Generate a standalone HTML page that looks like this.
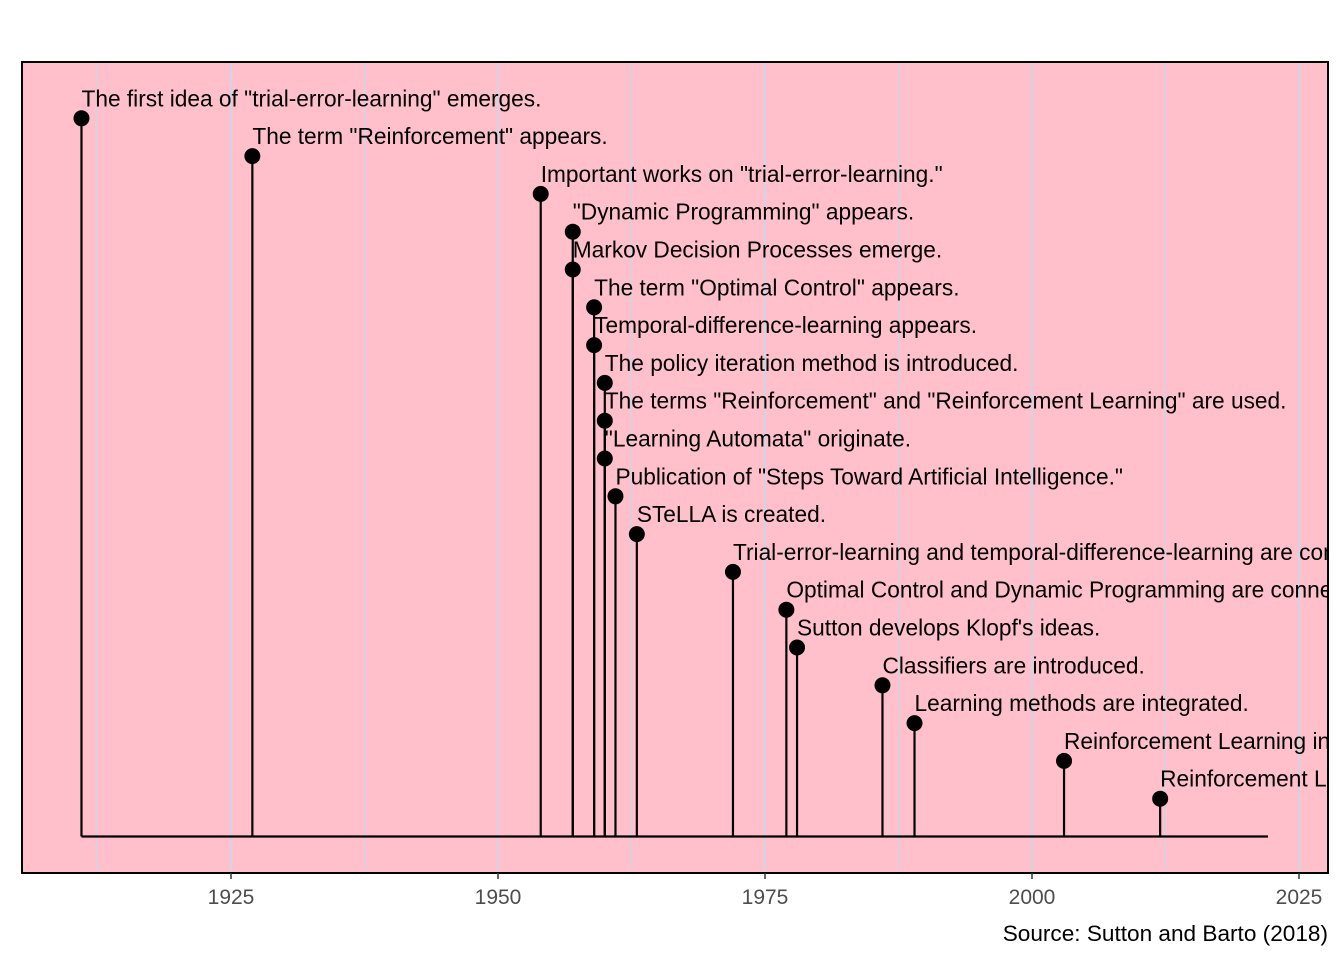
<!DOCTYPE html>
<html><head><meta charset="utf-8">
<style>body{margin:0;background:#fff}svg{display:block;font-family:"Liberation Sans",Arial,sans-serif}</style>
</head><body>
<svg id="chart" width="1344" height="960">
<defs><clipPath id="pc"><rect x="22" y="62" width="1306" height="811"/></clipPath></defs>
<rect x="22" y="62" width="1306" height="811" fill="#FFC0CB"/>
<g id="grid"></g>
<g id="marks" clip-path="url(#pc)"></g>
<rect x="22" y="62" width="1306" height="811" fill="none" stroke="#000" stroke-width="2"/>
<g id="axis"></g>
<text x="1328" y="941" text-anchor="end" font-size="22.6" fill="#000">Source: Sutton and Barto (2018)</text>
</svg>
<script>
const years=[1911,1927,1954,1957,1957,1959,1959,1960,1960,1960,1961,1963,1972,1977,1978,1986,1989,2003,2012];
const labels=['The first idea of "trial-error-learning" emerges.','The term "Reinforcement" appears.','Important works on "trial-error-learning."','"Dynamic Programming" appears.','Markov Decision Processes emerge.','The term "Optimal Control" appears.','Temporal-difference-learning appears.','The policy iteration method is introduced.','The terms "Reinforcement" and "Reinforcement Learning" are used.','"Learning Automata" originate.','Publication of "Steps Toward Artificial Intelligence."','STeLLA is created.','Trial-error-learning and temporal-difference-learning are combined.','Optimal Control and Dynamic Programming are connected.','Sutton develops Klopf\'s ideas.','Classifiers are introduced.','Learning methods are integrated.','Reinforcement Learning in games.','Reinforcement Learning matures.'];
const levels=[19,18,17,16,15,14,13,12,11,10,9,8,7,6,5,4,3,2,1];
const xTicks=[1925,1950,1975,2000,2025];
const xMinor=[1912.5,1937.5,1962.5,1987.5,2012.5];
const lineEnd=2022.1;
const NS='http://www.w3.org/2000/svg';
const X=y=>231+(y-1925)*10.68;
const Y=v=>836.5-v*37.8;
function mk(t,a,p){const e=document.createElementNS(NS,t);for(const k in a)e.setAttribute(k,a[k]);p.appendChild(e);return e;}
const grid=document.getElementById('grid'),marks=document.getElementById('marks'),axis=document.getElementById('axis');
xMinor.concat(xTicks).forEach(v=>{const l=mk('line',{x1:X(v),x2:X(v),y1:62,y2:873,stroke:'#BFDCEC','stroke-width':xTicks.includes(v)?1.5:1},grid);

});
const base=mk('line',{x1:X(years[0]),x2:X(lineEnd),y1:Y(0),y2:Y(0),stroke:'#000','stroke-width':2.2},marks);


years.forEach((yr,i)=>{
const s=mk('line',{x1:X(yr),x2:X(yr),y1:Y(0),y2:Y(levels[i]),stroke:'#000','stroke-width':2.2},marks);


const c=mk('circle',{cx:X(yr),cy:Y(levels[i]),r:8,fill:'#000'},marks);


const t=mk('text',{x:X(yr),y:Y(levels[i])-12,'font-size':22.7,fill:'#000'},marks);
t.textContent=labels[i];

});
xTicks.forEach(v=>{const l=mk('line',{x1:X(v),x2:X(v),y1:873,y2:879,stroke:'#333','stroke-width':1.5},axis);


const t=mk('text',{x:X(v),y:904,'text-anchor':'middle','font-size':21,fill:'#4d4d4d'},axis);
t.textContent=v;

});
</script>
</body></html>
